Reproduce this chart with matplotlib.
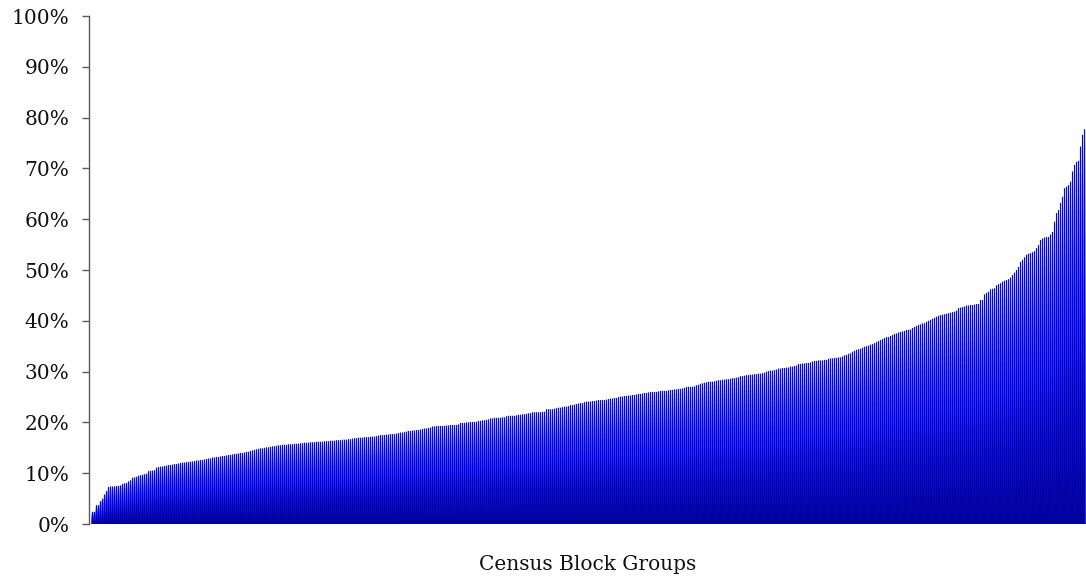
import numpy as np
import matplotlib
matplotlib.use('Agg')
import matplotlib.pyplot as plt
from matplotlib.colors import LinearSegmentedColormap
from matplotlib.ticker import FuncFormatter

# share of each census block group (percent), sorted ascending
share = [
    2.4, 2.4, 3.7, 3.7, 4.5, 5.0, 5.8, 6.5, 7.3, 7.4,
    7.4, 7.4, 7.5, 7.5, 7.6, 7.9, 8.0, 8.1, 8.4, 8.6,
    9.1, 9.2, 9.3, 9.5, 9.6, 9.7, 9.8, 9.9, 10.4, 10.5,
    10.5, 10.6, 11.1, 11.2, 11.3, 11.3, 11.4, 11.5, 11.6, 11.6,
    11.7, 11.8, 11.8, 11.9, 12.0, 12.1, 12.1, 12.2, 12.2, 12.3,
    12.3, 12.4, 12.5, 12.5, 12.6, 12.6, 12.7, 12.8, 12.9, 12.9,
    13.1, 13.1, 13.2, 13.2, 13.3, 13.4, 13.4, 13.5, 13.6, 13.6,
    13.7, 13.8, 13.8, 13.9, 14.0, 14.0, 14.1, 14.2, 14.2, 14.4,
    14.5, 14.6, 14.7, 14.8, 14.9, 14.9, 15.0, 15.1, 15.1, 15.2,
    15.3, 15.3, 15.4, 15.5, 15.5, 15.6, 15.6, 15.6, 15.7, 15.7,
    15.7, 15.8, 15.8, 15.8, 15.9, 15.9, 16.0, 16.0, 16.0, 16.1,
    16.1, 16.1, 16.2, 16.2, 16.2, 16.2, 16.3, 16.3, 16.3, 16.4,
    16.4, 16.4, 16.5, 16.5, 16.5, 16.6, 16.6, 16.6, 16.7, 16.7,
    16.8, 16.9, 16.9, 17.0, 17.0, 17.0, 17.1, 17.1, 17.1, 17.2,
    17.2, 17.2, 17.3, 17.4, 17.5, 17.5, 17.5, 17.6, 17.6, 17.7,
    17.7, 17.7, 17.8, 17.9, 18.0, 18.0, 18.1, 18.2, 18.3, 18.3,
    18.4, 18.4, 18.5, 18.5, 18.6, 18.7, 18.8, 18.8, 18.9, 19.0,
    19.2, 19.2, 19.3, 19.3, 19.3, 19.3, 19.3, 19.4, 19.4, 19.5,
    19.5, 19.5, 19.5, 19.6, 19.9, 19.9, 19.9, 20.0, 20.0, 20.1,
    20.1, 20.1, 20.1, 20.3, 20.3, 20.4, 20.4, 20.5, 20.6, 20.8,
    20.8, 20.9, 20.9, 20.9, 20.9, 21.0, 21.0, 21.2, 21.3, 21.3,
    21.3, 21.3, 21.4, 21.5, 21.5, 21.6, 21.6, 21.7, 21.8, 21.8,
    22.0, 22.0, 22.0, 22.0, 22.0, 22.1, 22.1, 22.6, 22.6, 22.6,
    22.6, 22.7, 22.8, 22.9, 22.9, 23.0, 23.1, 23.1, 23.2, 23.4,
    23.4, 23.5, 23.6, 23.7, 23.8, 23.8, 24.0, 24.1, 24.1, 24.1,
    24.2, 24.2, 24.3, 24.4, 24.4, 24.4, 24.4, 24.5, 24.6, 24.7,
    24.7, 24.8, 24.8, 25.0, 25.1, 25.1, 25.2, 25.2, 25.3, 25.3,
    25.4, 25.4, 25.5, 25.6, 25.6, 25.7, 25.8, 25.8, 25.9, 26.0,
    26.0, 26.0, 26.0, 26.1, 26.2, 26.2, 26.2, 26.2, 26.3, 26.4,
    26.4, 26.5, 26.5, 26.6, 26.6, 26.7, 26.8, 27.0, 27.0, 27.0,
    27.0, 27.1, 27.3, 27.4, 27.6, 27.7, 27.8, 27.9, 28.0, 28.0,
    28.0, 28.1, 28.2, 28.3, 28.3, 28.4, 28.4, 28.5, 28.5, 28.6,
    28.7, 28.7, 28.8, 28.9, 29.1, 29.1, 29.2, 29.3, 29.3, 29.4,
    29.4, 29.5, 29.5, 29.6, 29.6, 29.7, 29.8, 30.0, 30.1, 30.2,
    30.2, 30.3, 30.4, 30.6, 30.6, 30.7, 30.7, 30.8, 30.8, 31.0,
    31.0, 31.1, 31.2, 31.5, 31.5, 31.6, 31.6, 31.7, 31.7, 31.8,
    32.0, 32.1, 32.1, 32.2, 32.2, 32.2, 32.3, 32.3, 32.5, 32.6,
    32.6, 32.7, 32.7, 32.8, 32.8, 33.0, 33.2, 33.3, 33.5, 33.6,
    33.9, 34.1, 34.3, 34.4, 34.5, 34.7, 34.9, 35.0, 35.1, 35.3,
    35.4, 35.6, 35.8, 36.0, 36.2, 36.4, 36.6, 36.8, 36.8, 37.0,
    37.2, 37.4, 37.5, 37.7, 37.8, 37.9, 38.0, 38.2, 38.2, 38.3,
    38.6, 38.8, 39.0, 39.2, 39.3, 39.5, 39.5, 39.8, 40.0, 40.2,
    40.4, 40.6, 40.8, 41.0, 41.1, 41.2, 41.3, 41.4, 41.5, 41.6,
    41.7, 41.8, 42.0, 42.5, 42.6, 42.7, 42.8, 43.0, 43.0, 43.1,
    43.1, 43.2, 43.3, 43.3, 44.1, 44.1, 45.2, 45.5, 45.7, 46.2,
    46.3, 46.4, 47.0, 47.2, 47.4, 47.7, 47.9, 48.0, 48.2, 48.5,
    49.0, 49.5, 50.0, 50.6, 51.6, 52.0, 52.5, 53.0, 53.2, 53.3,
    53.5, 53.7, 54.3, 54.9, 55.9, 56.2, 56.4, 56.5, 56.5, 57.0,
    57.5, 59.5, 61.2, 61.8, 63.2, 64.4, 66.1, 66.4, 66.7, 67.4,
    69.4, 70.7, 71.3, 71.5, 74.3, 76.6, 77.7,
]
yticks = [0, 10, 20, 30, 40, 50, 60, 70, 80, 90, 100]
xlabel = 'Census Block Groups'

plt.rcParams['font.family'] = ['DejaVu Serif']

W, H = 1086, 582
fig = plt.figure(figsize=(W / 100, H / 100), dpi=100)
# plot area: x from 89 px to the right edge, y from 16 px to 524 px (top down)
ax = fig.add_axes([89 / W, (H - 524) / H, 997 / W, 508 / H])

# each bar fades from navy at its foot to bright blue at its top:
# paint it tallest-first, each shorter copy a darker shade laid over the last
grad_cmap = LinearSegmentedColormap.from_list('bluefade', ['#00009c', '#0000ff'])
n_steps = 30
vals = np.asarray(share)
pos = np.arange(len(vals))
for k in range(n_steps):
    frac = (n_steps - k) / n_steps
    bars = ax.bar(pos, vals * frac, width=0.55,
                  color=grad_cmap(frac - 0.5 / n_steps), linewidth=0)
    for b in bars:
        b.set_snap(False)

# two pixels per category
ax.set_xlim(-1.75, len(vals) - 0.25)
ax.set_ylim(0, 100)
ax.set_yticks(yticks)
ax.yaxis.set_major_formatter(FuncFormatter(lambda v, _: f'{v:.0f}%'))
ax.set_xticks([])

for side in ['top', 'right', 'bottom']:
    ax.spines[side].set_visible(False)
ax.spines['left'].set_color('#5a5a5a')
ax.spines['left'].set_linewidth(1.0)
ax.tick_params(axis='y', direction='out', length=5, width=1.0,
               color='#5a5a5a', pad=9, labelsize=14.5, labelcolor='#111111')

ax.set_xlabel(xlabel, fontsize=14.5, labelpad=22, color='#111111')

fig.savefig('out.png', dpi=100)
